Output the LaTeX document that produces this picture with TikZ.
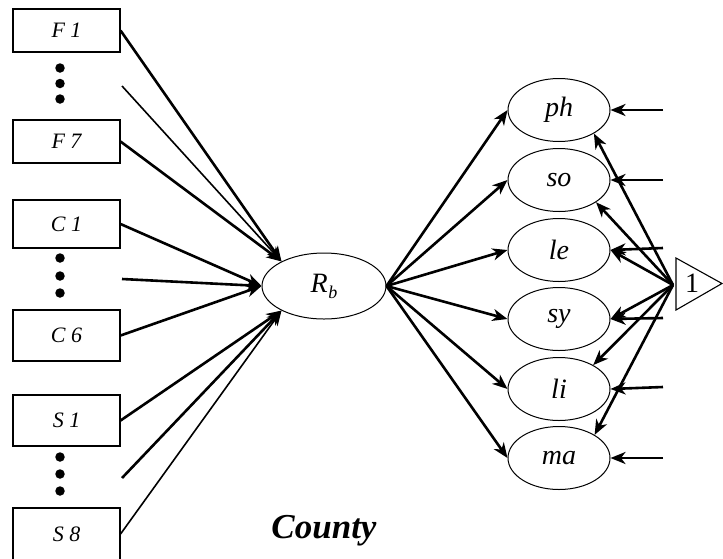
\documentclass[tikz,border=0pt]{standalone}
\usepackage{fontspec}
\setmainfont{Liberation Serif}
\usetikzlibrary{arrows.meta,shapes.geometric}
\begin{document}
\begin{tikzpicture}[x=1pt,y=-1pt,
  box/.style={draw, line width=1.1pt, minimum width=107pt, inner sep=0pt,
    font=\fontsize{22}{22}\selectfont\itshape},
  latent/.style={draw, ellipse, line width=1pt, minimum width=102pt,
    minimum height=63pt, inner sep=0pt, font=\fontsize{28}{28}\selectfont\itshape},
  bigdot/.style={circle, fill, inner sep=0pt, minimum size=9.5pt},
  tip/.style={-{Stealth[length=15pt,width=12pt,inset=4.5pt]}},
  link/.style={tip, line width=2.6pt},
  thinlink/.style={tip, line width=1.6pt},
]
\useasboundingbox (0,0) rectangle (723,558);

% indicator boxes
\node[box, minimum height=43pt] (F1) at (66.5,30.5)  {F 1};
\node[box, minimum height=43pt] (F7) at (66.5,141.5) {F 7};
\node[box, minimum height=48pt] (C1) at (66.5,224)   {C 1};
\node[box, minimum height=51pt] (C6) at (66.5,335.5) {C 6};
\node[box, minimum height=51pt] (S1) at (66.5,420.5) {S 1};
\node[box, minimum height=52pt] (S8) at (66.5,534)   {S 8};

% ellipsis dots between the boxes
\foreach \y [count=\i] in {68,83.5,99}   {\node[bigdot] (fdot\i) at (60,\y) {};}
\foreach \y [count=\i] in {258,276,293}  {\node[bigdot] (cdot\i) at (60,\y) {};}
\foreach \y [count=\i] in {457,474,491}  {\node[bigdot] (sdot\i) at (60,\y) {};}

% free starts of the elided indicators
\coordinate (fd) at (122,86);
\coordinate (cd) at (122,279);
\coordinate (sd) at (122,478);

% central latent variable
\node[latent, minimum width=124pt, minimum height=66pt] (Rb) at (324,286)
  {R\kern0.5pt\raisebox{-6pt}{\fontsize{18}{18}\selectfont b}};

% outcome variables
\node[latent] (ph) at (559,110) {ph};
\node[latent] (so) at (559,180) {so};
\node[latent] (le) at (559,250) {le};
\node[latent] (sy) at (559,319) {sy};
\node[latent] (li) at (559,389) {li};
\node[latent] (ma) at (559,458) {ma};

% constant triangle
\draw[line width=1.1pt] (676,258) -- (722,283.5) -- (676,310) -- cycle;
\node[font=\fontsize{28}{28}\selectfont] (one) at (692,283) {1};
\coordinate (src) at (673,285);

% error terms
\foreach \n/\y in {ph/110, so/180, le/248, sy/318, li/387, ma/458}
  {\coordinate (e\n) at (663,\y);}

% indicators into R_b
\draw[link] (F1.east) -- (Rb.150);
\draw[thinlink] (fd) -- (Rb.150);
\draw[link] (F7.east) -- (Rb.150);
\draw[link] (C1.east) -- (Rb.west);
\draw[link] (cd) -- (Rb.west);
\draw[link] (C6.east) -- (Rb.west);
\draw[link] (S1.east) -- (Rb.210);
\draw[link] (sd) -- (Rb.210);
\draw[thinlink] (S8.east) -- (Rb.210);

% R_b to outcomes
\foreach \n in {ph,so,le,sy,li,ma}
  {\draw[link] (Rb.east) -- (\n.west);}

% constant to outcomes
\draw[link] (src) -- (ph.-34);
\draw[link] (src) -- (so.-31);
\draw[link] (src) -- (le.east);
\draw[link] (src) -- (sy.east);
\draw[link] (src) -- (li.35);
\draw[link] (src) -- (ma.33);

% error arrows
\foreach \n in {ph,so,le,sy,li,ma}
  {\draw[link] (e\n) -- (\n.east);}

% caption
\node[font=\fontsize{35}{35}\selectfont\bfseries\itshape, anchor=base] (county) at (324,538) {County};
\end{tikzpicture}
\end{document}
